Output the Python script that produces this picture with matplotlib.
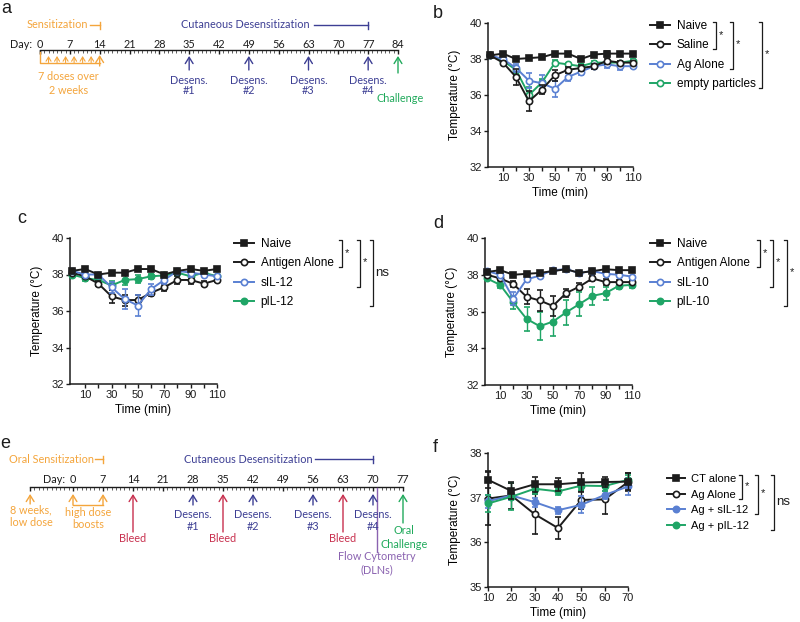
import numpy as np
import matplotlib
matplotlib.use("Agg")
import matplotlib.pyplot as plt
from matplotlib.lines import Line2D

plt.rcParams['font.family'] = 'Liberation Sans'

W, H = 800, 622  # figure size in pixels

# ---------------- data ----------------
# time points (min) for panels b, c, d
t_min = [0, 10, 20, 30, 40, 50, 60, 70, 80, 90, 100, 110]

# panel b
b_naive = [38.2, 38.3, 38.0, 38.05, 38.1, 38.3, 38.3, 38.0, 38.25, 38.3, 38.3, 38.3]
b_naive_err = [0.05, 0.05, 0.05, 0.05, 0.05, 0.05, 0.05, 0.05, 0.05, 0.15, 0.05, 0.05]
b_saline = [38.2, 37.8, 37.0, 35.65, 36.3, 37.1, 37.4, 37.5, 37.6, 37.9, 37.8, 37.8]
b_saline_err = [0.05, 0.1, 0.45, 0.55, 0.25, 0.3, 0.15, 0.15, 0.15, 0.15, 0.1, 0.1]
b_ag = [38.2, 38.0, 37.5, 36.8, 36.65, 36.35, 37.0, 37.3, 37.6, 37.7, 37.6, 37.6]
b_ag_err = [0.05, 0.1, 0.2, 0.4, 0.45, 0.45, 0.2, 0.2, 0.15, 0.2, 0.2, 0.1]
b_empty = [38.2, 37.9, 37.4, 36.0, 36.7, 37.8, 37.7, 37.6, 37.8, 37.8, 37.8, 37.9]
b_empty_err = [0.05, 0.1, 0.2, 0.45, 0.2, 0.15, 0.1, 0.1, 0.1, 0.1, 0.1, 0.1]

# panel c
c_naive = [38.2, 38.3, 38.0, 38.1, 38.1, 38.3, 38.3, 38.0, 38.2, 38.3, 38.2, 38.3]
c_naive_err = [0.05, 0.05, 0.05, 0.05, 0.05, 0.05, 0.05, 0.05, 0.05, 0.05, 0.05, 0.05]
c_antigen = [38.1, 37.9, 37.5, 36.8, 36.6, 36.6, 37.0, 37.3, 37.7, 37.7, 37.5, 37.7]
c_antigen_err = [0.05, 0.1, 0.15, 0.35, 0.3, 0.3, 0.2, 0.2, 0.2, 0.2, 0.15, 0.1]
c_sil12 = [38.2, 38.0, 38.0, 37.3, 36.65, 36.3, 37.2, 37.7, 38.2, 38.1, 38.0, 37.9]
c_sil12_err = [0.05, 0.1, 0.1, 0.3, 0.55, 0.6, 0.3, 0.2, 0.1, 0.25, 0.1, 0.1]
c_pil12 = [38.0, 37.8, 37.7, 37.4, 37.7, 37.75, 37.9, 37.95, 38.1, 37.9, 38.1, 37.9]
c_pil12_err = [0.05, 0.15, 0.15, 0.25, 0.25, 0.2, 0.15, 0.1, 0.1, 0.1, 0.1, 0.1]

# panel d
d_naive = [38.15, 38.25, 38.0, 38.05, 38.1, 38.2, 38.3, 38.1, 38.2, 38.3, 38.25, 38.25]
d_naive_err = [0.05, 0.05, 0.05, 0.05, 0.05, 0.05, 0.05, 0.05, 0.05, 0.1, 0.05, 0.05]
d_antigen = [38.0, 37.8, 37.5, 36.8, 36.6, 36.3, 37.0, 37.35, 37.8, 37.6, 37.6, 37.6]
d_antigen_err = [0.05, 0.1, 0.15, 0.4, 0.55, 0.55, 0.2, 0.2, 0.15, 0.15, 0.1, 0.1]
d_sil10 = [38.2, 38.0, 36.7, 37.75, 37.95, 38.25, 38.3, 38.1, 38.2, 38.05, 38.0, 37.9]
d_sil10_err = [0.05, 0.1, 0.35, 0.15, 0.1, 0.05, 0.05, 0.05, 0.05, 0.05, 0.05, 0.05]
d_pil10 = [37.8, 37.45, 36.5, 35.6, 35.2, 35.45, 35.95, 36.4, 36.85, 37.0, 37.4, 37.45]
d_pil10_err = [0.05, 0.15, 0.35, 0.65, 0.75, 0.8, 0.7, 0.65, 0.5, 0.35, 0.2, 0.15]

# panel f
t_f = [10, 20, 30, 40, 50, 60, 70]
f_ct = [37.40, 37.15, 37.30, 37.30, 37.34, 37.35, 37.36]
f_ct_err = [0.19, 0.17, 0.17, 0.15, 0.22, 0.12, 0.19]
f_agalone = [36.98, 37.05, 36.63, 36.32, 36.95, 36.96, 37.35]
f_agalone_err = [0.6, 0.3, 0.45, 0.24, 0.2, 0.33, 0.2]
f_sil12 = [36.92, 37.05, 36.9, 36.72, 36.84, 37.06, 37.25]
f_sil12_err = [0.15, 0.1, 0.1, 0.08, 0.19, 0.1, 0.19]
f_pil12 = [36.87, 37.02, 37.2, 37.14, 37.27, 37.26, 37.4]
f_pil12_err = [0.2, 0.3, 0.12, 0.08, 0.1, 0.1, 0.1]

# timeline a (days)
a_days = [0, 7, 14, 21, 28, 35, 42, 49, 56, 63, 70, 77, 84]
a_doses = [2, 4, 6, 8, 10, 12]
a_sens_end = 14
a_desens = [35, 49, 63, 77]
a_challenge = 84

# timeline e (days)
e_days = [0, 7, 14, 21, 28, 35, 42, 49, 56, 63, 70, 77]
e_low_dose = -10
e_boosts = [0, 7]
e_bleeds = [14, 35, 63]
e_desens = [28, 42, 56, 70]
e_flow = 71
e_challenge = 77

# colours
BLACK = '#1c1c1c'
PBLUE = '#5a80d2'
PGREEN = '#1fa566'
ORANGE = '#f4a53c'
NAVY = '#3d3f94'
RED = '#c8304e'
TGREEN = '#21aa5c'
PURPLE = '#8a62b0'
TL_FONT = 'Lato'
TL_SIZE = 7.8

fig = plt.figure(figsize=(W / 100, H / 100), dpi=100)


def px_axes(left, top, right, bottom):
    return fig.add_axes([left / W, 1 - bottom / H, (right - left) / W, (bottom - top) / H])


def temp_axes(left, top, right, bottom, xlim, xticks, xlabels, ylim, yticks):
    ax = px_axes(left, top, right, bottom)
    ax.spines[['top', 'right']].set_visible(False)
    for s in ['left', 'bottom']:
        ax.spines[s].set_linewidth(1.1)
        ax.spines[s].set_color(BLACK)
    ax.set_xlim(*xlim)
    ax.set_ylim(*ylim)
    ax.set_xticks(xticks)
    ax.set_xticklabels(xlabels)
    ax.set_yticks(yticks)
    ax.tick_params(length=3, width=1.0, labelsize=8, pad=1.5, colors=BLACK)
    ax.set_xlabel('Time (min)', fontsize=8.5, labelpad=3)
    ax.set_ylabel('Temperature (°C)', fontsize=8.5, labelpad=6)
    ax.patch.set_alpha(0)
    return ax


def series(ax, x, y, err, color, marker, filled, z):
    ax.errorbar(x, y, yerr=err, color=color, marker=marker, ms=4.2 if marker == 's' else 4.5,
                mfc=color if filled else 'white', mec=color, mew=1.2, lw=1.4,
                capsize=2.3, elinewidth=1.0, capthick=1.0, clip_on=False, zorder=z)


def key(color, marker, filled):
    return Line2D([], [], color=color, marker=marker, ms=4.2 if marker == 's' else 4.5,
                  mfc=color if filled else 'white', mec=color, mew=1.2, lw=1.4)


def legend(ax, handles, labels, x, y, spacing, size=8.5, hlen=1.7):
    return ax.legend(handles, labels, loc='upper left', bbox_to_anchor=(x / W, 1 - y / H),
                     bbox_transform=fig.transFigure, frameon=False, fontsize=size,
                     handlelength=hlen, handletextpad=0.55, borderpad=0, borderaxespad=0,
                     labelspacing=spacing)


b_ticks = list(range(10, 111, 10))
b_ticklabels = [str(v) if v % 20 == 10 else '' for v in b_ticks]

# ---------------- panel b ----------------
ax_b = temp_axes(488, 23, 633, 167, (-1.5, 110), b_ticks, b_ticklabels, (32, 40), [32, 34, 36, 38, 40])
series(ax_b, t_min, b_empty, b_empty_err, PGREEN, 'o', False, 3)
series(ax_b, t_min, b_ag, b_ag_err, PBLUE, 'o', False, 4)
series(ax_b, t_min, b_saline, b_saline_err, BLACK, 'o', False, 5)
series(ax_b, t_min, b_naive, b_naive_err, BLACK, 's', True, 6)
leg_b = legend(ax_b, [key(BLACK, 's', True), key(BLACK, 'o', False), key(PBLUE, 'o', False), key(PGREEN, 'o', False)],
               ['Naive', 'Saline', 'Ag Alone', 'empty particles'], 650, 20, 0.62)

# ---------------- panel c ----------------
ax_c = temp_axes(70, 238, 217, 384, (-1.5, 110), b_ticks, b_ticklabels, (32, 40), [32, 34, 36, 38, 40])
series(ax_c, t_min, c_pil12, c_pil12_err, PGREEN, 'o', True, 3)
series(ax_c, t_min, c_antigen, c_antigen_err, BLACK, 'o', False, 4)
series(ax_c, t_min, c_sil12, c_sil12_err, PBLUE, 'o', False, 5)
series(ax_c, t_min, c_naive, c_naive_err, BLACK, 's', True, 6)
leg_c = legend(ax_c, [key(BLACK, 's', True), key(BLACK, 'o', False), key(PBLUE, 'o', False), key(PGREEN, 'o', True)],
               ['Naive', 'Antigen Alone', 'sIL-12', 'pIL-12'], 234, 238, 0.62)

# ---------------- panel d ----------------
ax_d = temp_axes(485, 238, 632, 385, (-1.5, 110), b_ticks, b_ticklabels, (32, 40), [32, 34, 36, 38, 40])
series(ax_d, t_min, d_pil10, d_pil10_err, PGREEN, 'o', True, 3)
series(ax_d, t_min, d_antigen, d_antigen_err, BLACK, 'o', False, 4)
series(ax_d, t_min, d_sil10, d_sil10_err, PBLUE, 'o', False, 5)
series(ax_d, t_min, d_naive, d_naive_err, BLACK, 's', True, 6)
leg_d = legend(ax_d, [key(BLACK, 's', True), key(BLACK, 'o', False), key(PBLUE, 'o', False), key(PGREEN, 'o', True)],
               ['Naive', 'Antigen Alone', 'sIL-10', 'pIL-10'], 650, 238, 0.62)

# ---------------- panel f ----------------
ax_f = temp_axes(488, 453, 628, 587, (10, 70), t_f, [str(v) for v in t_f], (35, 38), [35, 36, 37, 38])
series(ax_f, t_f, f_agalone, f_agalone_err, BLACK, 'o', False, 3)
series(ax_f, t_f, f_sil12, f_sil12_err, PBLUE, 'o', True, 4)
series(ax_f, t_f, f_pil12, f_pil12_err, PGREEN, 'o', True, 5)
series(ax_f, t_f, f_ct, f_ct_err, BLACK, 's', True, 6)
leg_f = legend(ax_f, [key(BLACK, 's', True), key(BLACK, 'o', False), key(PBLUE, 'o', True), key(PGREEN, 'o', True)],
               ['CT alone', 'Ag Alone', 'Ag + sIL-12', 'Ag + pIL-12'], 667, 474, 0.5, size=8, hlen=1.6)


# ---------------- timelines ----------------
def timeline_axes(left, top, right, bottom, day0_px, px_per_day):
    ax = px_axes(left, top, right, bottom)
    ax.set_xlim((left - day0_px) / px_per_day, (right - day0_px) / px_per_day)
    ax.set_ylim(bottom, top)
    ax.axis('off')
    return ax


def day_axis(ax, start, end, days, y_line, y_lab, day_word_x):
    ax.plot([start, end], [y_line, y_line], color=BLACK, lw=1.0)
    ax.vlines(np.arange(start, end + 1), y_line, y_line + 2.5, color=BLACK, lw=0.5)
    ax.vlines([start] + days, y_line, y_line + 4, color=BLACK, lw=1.0)
    for d in days:
        ax.text(d, y_lab, str(d), ha='center', va='center', fontsize=TL_SIZE, family=TL_FONT, color=BLACK)
    ax.text(day_word_x, y_lab, 'Day:', ha='right', va='center', fontsize=TL_SIZE, family=TL_FONT, color=BLACK)


def arrow(ax, day, y_tail, y_head, color, hl=0.45, hw=0.28, lw=1.0):
    ax.annotate('', xy=(day, y_head), xytext=(day, y_tail),
                arrowprops=dict(arrowstyle='->,head_length=%g,head_width=%g' % (hl, hw),
                                color=color, lw=lw, shrinkA=0, shrinkB=0))


def span(ax, text, x_text, x0, x1, y, color):
    ax.text(x_text, y, text, ha='right', va='center', fontsize=TL_SIZE, family=TL_FONT, color=color)
    ax.plot([x0, x1], [y, y], color=color, lw=1.0)
    ax.plot([x1, x1], [y - 3.5, y + 3.5], color=color, lw=1.0)


def tl_text(ax, x, y, s, color):
    ax.text(x, y, s, ha='center', va='center', fontsize=TL_SIZE, family=TL_FONT, color=color,
            linespacing=1.1)


# panel a
ax_a = timeline_axes(0, 0, 420, 130, 40, 358 / 84)
day_axis(ax_a, 0, 84, a_days, 50, 44, -1.9)
span(ax_a, 'Sensitization', 11.3, 11.8, a_sens_end, 25, ORANGE)
span(ax_a, 'Cutaneous Desensitization', 63.3, 64.2, a_desens[-1], 25, NAVY)
ax_a.plot([0, 0, a_sens_end], [52, 62.5, 62.5], color=ORANGE, lw=1.0)
for d in a_doses:
    arrow(ax_a, d, 62.5, 56, ORANGE, hl=0.3, hw=0.18, lw=0.8)
arrow(ax_a, a_sens_end, 66, 55, ORANGE)
tl_text(ax_a, 6.6, 77, '7 doses over', ORANGE)
tl_text(ax_a, 6.6, 90, '2 weeks', ORANGE)
for i, d in enumerate(a_desens):
    arrow(ax_a, d, 70, 56, NAVY)
    tl_text(ax_a, d, 80, 'Desens.', NAVY)
    tl_text(ax_a, d, 91, '#%d' % (i + 1), NAVY)
arrow(ax_a, a_challenge, 73, 56, TGREEN)
ax_a.text(a_challenge - 5, 98, 'Challenge', ha='left', va='center', fontsize=TL_SIZE,
          family=TL_FONT, color=TGREEN)

# panel e
ax_e = timeline_axes(0, 420, 440, 622, 73, 330 / 77)
day_axis(ax_e, e_low_dose, e_challenge, e_days, 487, 479, -1.9)
span(ax_e, 'Oral Sensitization', 4.9, 5.2, e_boosts[-1], 459, ORANGE)
span(ax_e, 'Cutaneous Desensitization', 56.0, 56.4, e_desens[-1], 459, NAVY)
arrow(ax_e, e_low_dose, 504, 494, ORANGE)
tl_text(ax_e, e_low_dose + 0.2, 510, '8 weeks,', ORANGE)
tl_text(ax_e, e_low_dose + 0.2, 522, 'low dose', ORANGE)
ax_e.plot(e_boosts, [505, 505], color=ORANGE, lw=1.0)
for d in e_boosts:
    arrow(ax_e, d, 505, 494, ORANGE)
tl_text(ax_e, 3.5, 512, 'high dose', ORANGE)
tl_text(ax_e, 3.5, 525, 'boosts', ORANGE)
for d in e_bleeds:
    arrow(ax_e, d, 532, 494, RED)
    tl_text(ax_e, d, 538, 'Bleed', RED)
for i, d in enumerate(e_desens):
    arrow(ax_e, d, 505, 494, NAVY)
    tl_text(ax_e, d, 514, 'Desens.', NAVY)
    tl_text(ax_e, d, 527, '#%d' % (i + 1), NAVY)
ax_e.plot([e_flow, e_flow], [488, 552], color=PURPLE, lw=1.0)
tl_text(ax_e, e_flow, 557, 'Flow Cytometry', PURPLE)
tl_text(ax_e, e_flow, 570, '(DLNs)', PURPLE)
arrow(ax_e, e_challenge, 523, 494, TGREEN)
tl_text(ax_e, e_challenge + 0.2, 531, 'Oral', TGREEN)
tl_text(ax_e, e_challenge + 0.2, 545, 'Challenge', TGREEN)

# ---------------- overlay: panel letters and significance brackets ----------------
ov = fig.add_axes([0, 0, 1, 1])
ov.set_xlim(0, W)
ov.set_ylim(H, 0)
ov.axis('off')

for lab, x, y in [('a', 1, 13), ('b', 433, 18), ('c', 17, 223), ('d', 433, 228), ('e', 0, 448), ('f', 433, 452)]:
    ov.text(x, y, lab, fontsize=13, va='baseline', ha='left', color=BLACK)

fig.canvas.draw()
renderer = fig.canvas.get_renderer()


def row_centers(leg):
    out = []
    for txt in leg.get_texts():
        bb = txt.get_window_extent(renderer)
        out.append(H - (bb.y0 + bb.y1) / 2)
    return out


def bracket(rows, i, j, x, label):
    y0, y1 = rows[i] - 4, rows[j] + 4
    ov.plot([x - 3, x, x, x - 3], [y0, y0, y1, y1], color=BLACK, lw=0.9)
    ov.text(x + 2.5, (y0 + y1) / 2 - (1 if label == '*' else 0), label, ha='left', va='center',
            fontsize=8 if label == '*' else 9.5, color=BLACK)


rb = row_centers(leg_b)
bracket(rb, 0, 1, 716, '*')
bracket(rb, 0, 2, 733, '*')
bracket(rb, 0, 3, 762, '*')

rc = row_centers(leg_c)
bracket(rc, 0, 1, 342, '*')
bracket(rc, 0, 2, 360, '*')
bracket(rc, 0, 3, 373, 'ns')

rd = row_centers(leg_d)
bracket(rd, 0, 1, 760, '*')
bracket(rd, 0, 2, 773, '*')
bracket(rd, 0, 3, 787, '*')

rf = row_centers(leg_f)
bracket(rf, 0, 1, 742, '*')
bracket(rf, 0, 2, 758, '*')
bracket(rf, 0, 3, 774, 'ns')

fig.savefig('out.png', dpi=100)
